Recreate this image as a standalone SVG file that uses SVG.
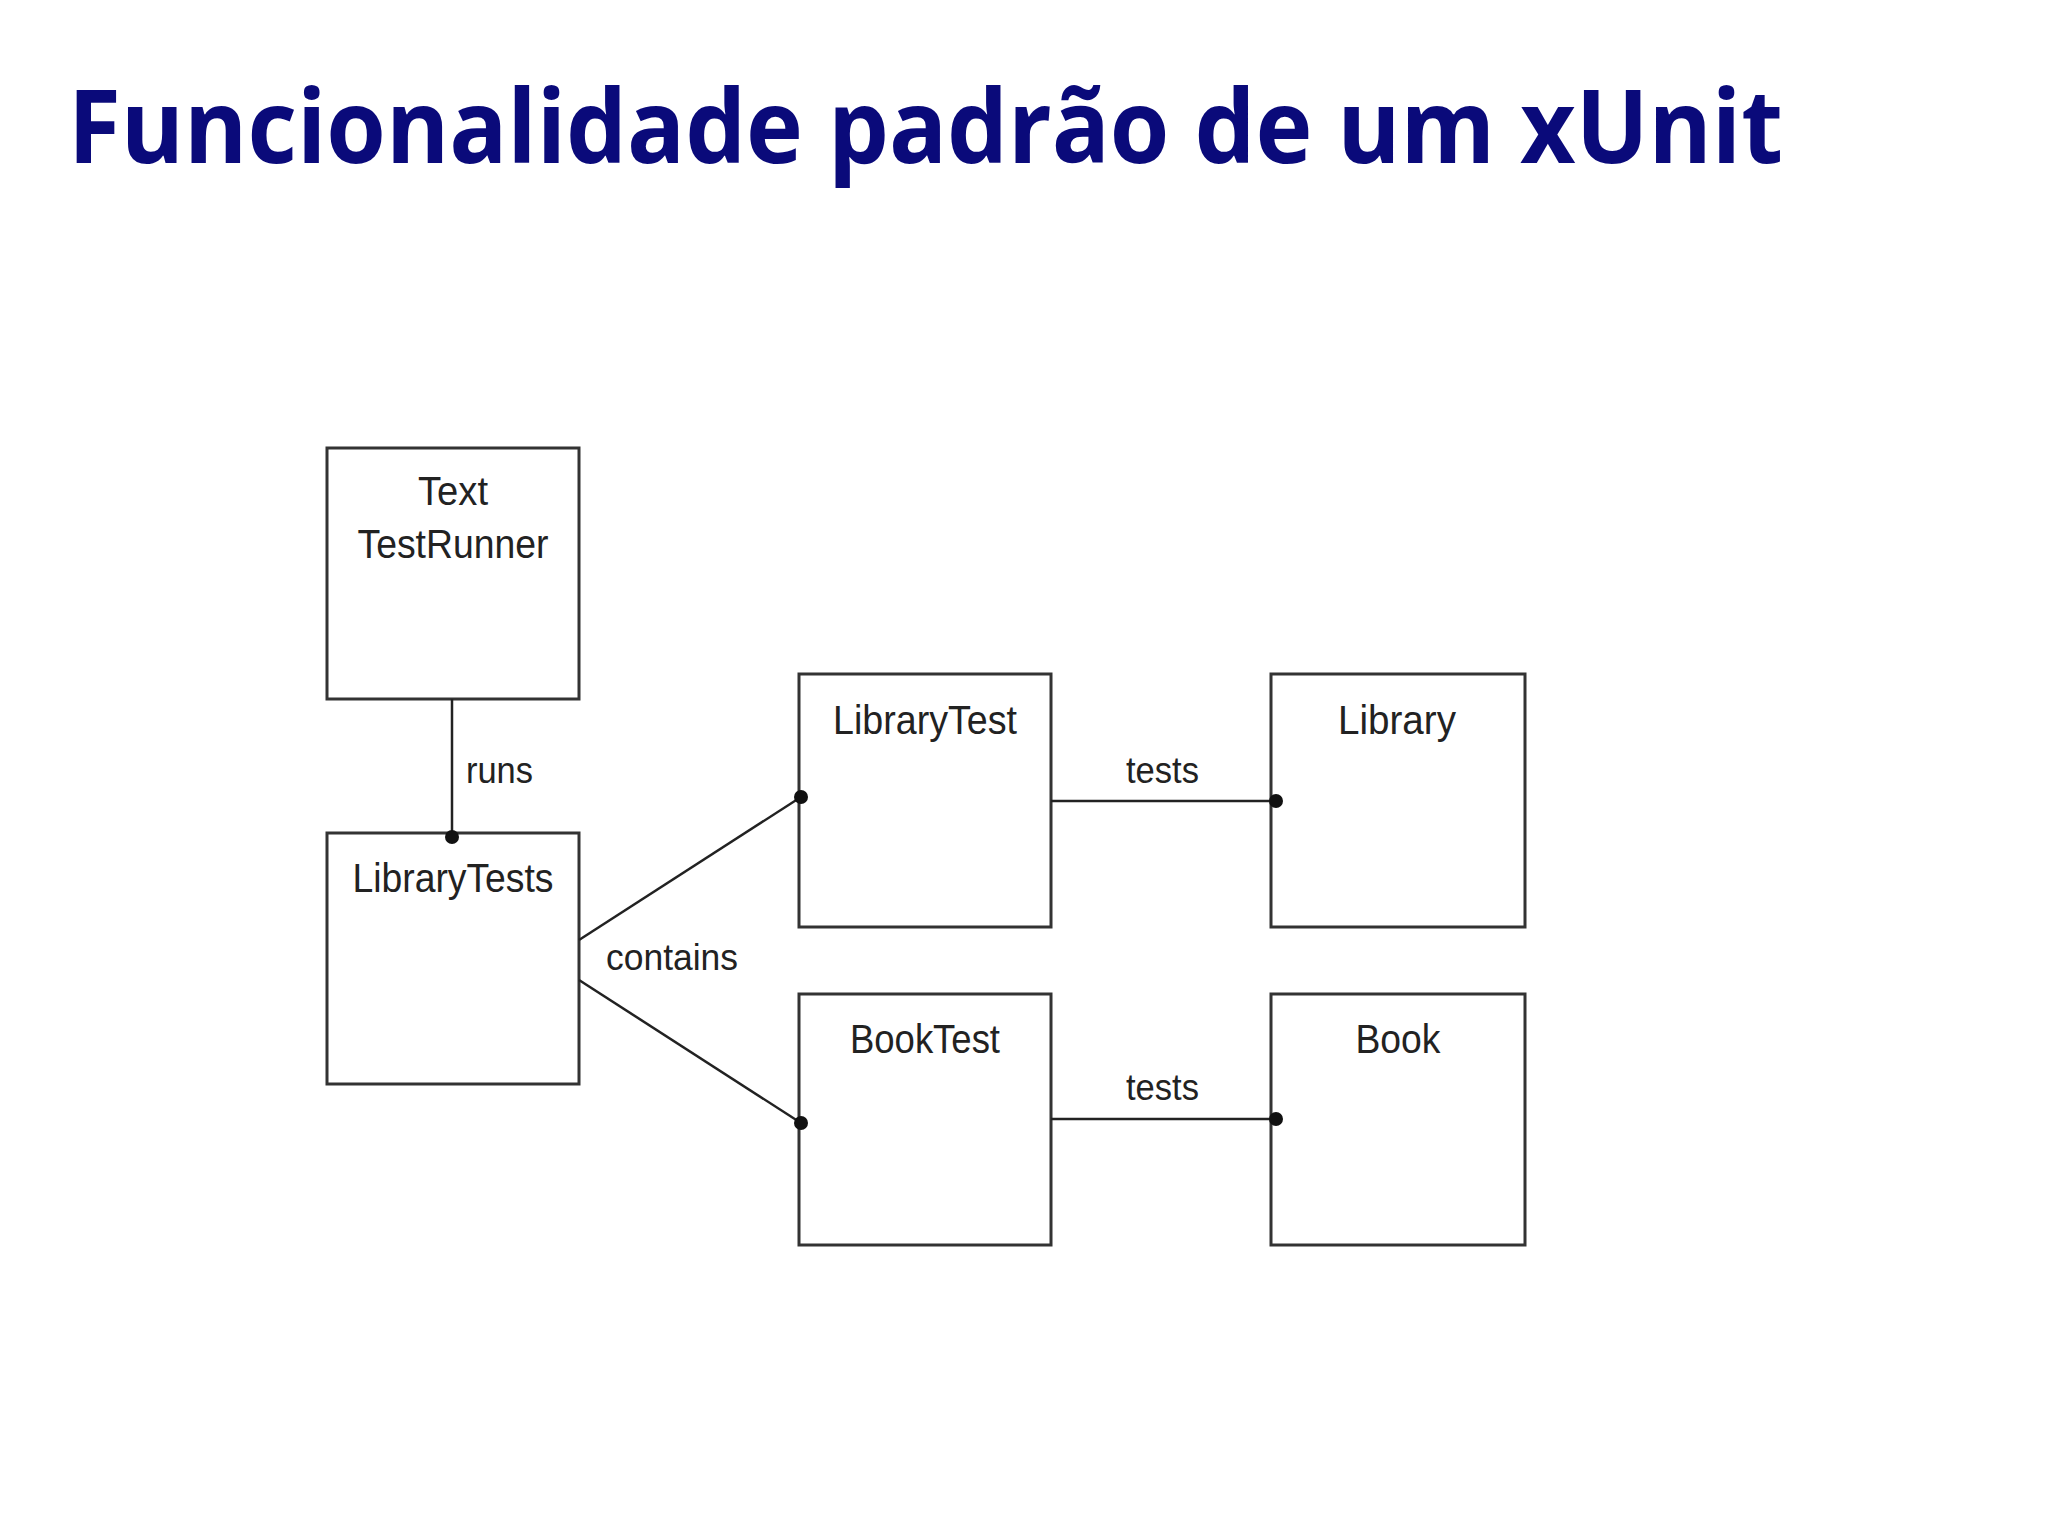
<svg xmlns="http://www.w3.org/2000/svg" width="2048" height="1535" viewBox="0 0 2048 1535">
<style>
.box{fill:#fff;stroke:#333;stroke-width:3}
.t{font-family:"Liberation Sans",Arial,sans-serif;font-size:40px;fill:#222;text-anchor:middle}
.l{font-family:"Liberation Sans",Arial,sans-serif;font-size:36px;fill:#222}
.c{stroke:#222;stroke-width:2.5;fill:none}
</style>
<rect width="2048" height="1535" fill="#fff"/>
<text x="68" y="163" font-family="'Open Sans',sans-serif" font-weight="bold" font-size="102" fill="#0a0a7a" textLength="1715" lengthAdjust="spacingAndGlyphs">Funcionalidade padrão de um xUnit</text>
<g id="textTestRunner"><rect class="box" x="327" y="448" width="252" height="251"/>
<text class="t" x="453" y="505" textLength="70" lengthAdjust="spacingAndGlyphs">Text</text>
<text class="t" x="453" y="558" textLength="191" lengthAdjust="spacingAndGlyphs">TestRunner</text></g>
<g id="libraryTests"><rect class="box" x="327" y="833" width="252" height="251"/>
<text class="t" x="453" y="892" textLength="201" lengthAdjust="spacingAndGlyphs">LibraryTests</text></g>
<g id="libraryTest"><rect class="box" x="799" y="674" width="252" height="253"/>
<text class="t" x="925" y="734" textLength="184" lengthAdjust="spacingAndGlyphs">LibraryTest</text></g>
<g id="library"><rect class="box" x="1271" y="674" width="254" height="253"/>
<text class="t" x="1397" y="734" textLength="118" lengthAdjust="spacingAndGlyphs">Library</text></g>
<g id="bookTest"><rect class="box" x="799" y="994" width="252" height="251"/>
<text class="t" x="925" y="1053" textLength="150" lengthAdjust="spacingAndGlyphs">BookTest</text></g>
<g id="book"><rect class="box" x="1271" y="994" width="254" height="251"/>
<text class="t" x="1398" y="1053" textLength="85" lengthAdjust="spacingAndGlyphs">Book</text></g>
<g id="connectors">
<line class="c" x1="452" y1="699" x2="452" y2="837"/><circle cx="452" cy="837" r="7" fill="#111"/>
<text class="l" x="466" y="783" textLength="67" lengthAdjust="spacingAndGlyphs">runs</text>
<line class="c" x1="579" y1="940" x2="801" y2="797"/><circle cx="801" cy="797" r="7" fill="#111"/>
<line class="c" x1="579" y1="980" x2="801" y2="1123"/><circle cx="801" cy="1123" r="7" fill="#111"/>
<text class="l" x="606" y="970" textLength="132" lengthAdjust="spacingAndGlyphs">contains</text>
<line class="c" x1="1051" y1="801" x2="1276" y2="801"/><circle cx="1276" cy="801" r="7" fill="#111"/>
<text class="l" x="1126" y="783" textLength="73" lengthAdjust="spacingAndGlyphs">tests</text>
<line class="c" x1="1051" y1="1119" x2="1276" y2="1119"/><circle cx="1276" cy="1119" r="7" fill="#111"/>
<text class="l" x="1126" y="1100" textLength="73" lengthAdjust="spacingAndGlyphs">tests</text>
</g>
</svg>
